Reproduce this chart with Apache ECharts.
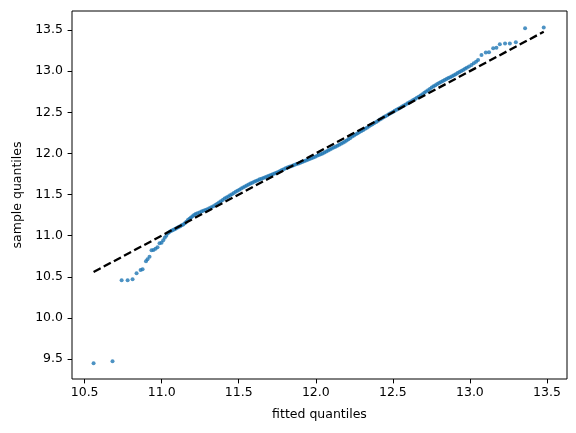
<!DOCTYPE html>
<html>
<head>
<meta charset="utf-8">
<script src="https://cdn.jsdelivr.net/npm/echarts@6/dist/echarts.min.js"></script>
<style>html,body{margin:0;padding:0;background:#fff}#c{width:576px;height:433px}</style>
</head>
<body>
<div id="c"></div>
<script>
// fitted (theoretical) quantiles
var fittedQ = [
10.558,10.681,10.740,10.779,10.811,10.837,10.863,10.876,10.898,10.908,10.921,10.934,10.947,10.960,10.973,10.986,10.999,
11.010,11.020,11.030,11.040,11.050,11.060,11.070,11.080,11.090,11.100,11.110,11.120,11.130,11.140,11.150,11.160,11.170,11.180,11.190,11.200,11.210,11.220,
11.232,11.245,11.258,11.270,11.283,11.296,11.309,11.322,11.335,11.348,11.360,11.372,11.384,11.396,11.408,11.420,11.432,11.444,11.456,11.468,11.480,11.492,
11.504,11.516,11.528,11.540,11.552,11.564,11.576,11.588,11.600,11.612,11.624,11.636,11.648,11.660,11.672,11.684,11.696,11.708,11.720,11.732,11.744,11.756,
11.768,11.780,11.792,11.804,11.816,11.828,11.840,11.852,11.864,11.876,11.888,11.900,11.912,11.924,11.936,11.948,11.960,11.972,11.984,11.996,12.008,12.020,
12.032,12.044,12.056,12.068,12.080,12.092,12.104,12.116,12.128,12.140,12.152,12.164,12.176,12.188,12.200,12.212,12.224,12.236,12.248,12.260,12.272,12.284,
12.296,12.308,12.320,12.332,12.344,12.356,12.368,12.380,12.392,12.404,12.416,12.428,12.440,12.452,12.464,12.476,12.488,12.500,12.512,12.524,12.536,12.548,
12.560,12.572,12.584,12.596,12.608,12.620,12.632,12.644,12.656,12.668,12.680,12.692,12.704,12.716,12.728,12.740,12.752,12.764,12.776,12.788,12.800,12.812,
12.824,12.836,12.848,12.860,12.872,12.884,12.896,12.908,12.920,12.932,12.944,12.956,12.968,12.980,12.994,13.010,13.025,13.040,13.053,
13.075,13.103,13.124,13.151,13.172,13.194,13.228,13.259,13.298,13.358,13.479
];
// sample quantiles
var sampleQ = [
9.448,9.472,10.457,10.457,10.469,10.542,10.582,10.590,10.688,10.712,10.744,10.822,10.825,10.841,10.858,10.907,10.914,
10.945,10.975,11.000,11.030,11.045,11.055,11.065,11.075,11.085,11.095,11.105,11.115,11.125,11.135,11.150,11.170,11.190,11.205,11.220,11.235,11.250,11.262,
11.272,11.282,11.292,11.302,11.312,11.322,11.333,11.345,11.358,11.372,11.387,11.402,11.418,11.434,11.450,11.463,11.476,11.490,11.504,11.518,11.532,11.546,
11.559,11.572,11.585,11.598,11.610,11.622,11.633,11.644,11.654,11.664,11.674,11.684,11.693,11.702,11.711,11.720,11.729,11.738,11.747,11.756,11.765,11.775,
11.786,11.797,11.808,11.818,11.827,11.836,11.845,11.854,11.862,11.870,11.878,11.886,11.895,11.904,11.913,11.922,11.931,11.940,11.950,11.960,11.970,11.980,
11.990,12.000,12.011,12.022,12.034,12.046,12.058,12.070,12.082,12.094,12.105,12.116,12.128,12.142,12.157,12.172,12.188,12.204,12.218,12.232,12.246,12.259,
12.272,12.285,12.299,12.313,12.327,12.341,12.355,12.369,12.383,12.397,12.411,12.425,12.439,12.452,12.465,12.478,12.491,12.504,12.517,12.530,12.543,12.556,
12.569,12.582,12.595,12.608,12.621,12.634,12.648,12.662,12.676,12.690,12.705,12.720,12.736,12.752,12.768,12.784,12.800,12.815,12.829,12.842,12.855,12.867,
12.879,12.891,12.903,12.915,12.927,12.939,12.951,12.963,12.976,12.989,13.002,13.015,13.028,13.041,13.055,13.075,13.095,13.115,13.136,
13.197,13.225,13.230,13.278,13.285,13.327,13.335,13.336,13.351,13.521,13.530
];
// reference line (y = x) end points
var refX = [10.558, 13.479];
var refY = [10.558, 13.479];
var xTicks = [10.5, 11.0, 11.5, 12.0, 12.5, 13.0, 13.5];
var yTicks = [9.5, 10.0, 10.5, 11.0, 11.5, 12.0, 12.5, 13.0, 13.5];

var pts = fittedQ.map(function (v, i) { return [v, sampleQ[i]]; });
var ref = refX.map(function (v, i) { return [v, refY[i]]; });

var font = 'DejaVu Sans';
var chart = echarts.init(document.getElementById('c'), null, { renderer: 'canvas' });
chart.setOption({
  animation: false,
  backgroundColor: '#fff',
  grid: { left: 72, right: 9, top: 11, bottom: 54, show: true, borderColor: '#000', borderWidth: 1, backgroundColor: 'transparent' },
  xAxis: {
    type: 'value', min: 10.418, max: 13.63,
    name: 'fitted quantiles', nameLocation: 'middle', nameGap: 29,
    nameTextStyle: { fontFamily: font, fontSize: 12.5, color: '#000' },
    axisLine: { show: false },
    splitLine: { show: false },
    axisTick: { show: true, length: 4.4, lineStyle: { color: '#000', width: 1 }, customValues: xTicks },
    axisLabel: { fontFamily: font, fontSize: 12.5, color: '#000', margin: 7, customValues: xTicks,
      formatter: function (v) { return v.toFixed(1); } }
  },
  yAxis: {
    type: 'value', min: 9.257, max: 13.731,
    name: 'sample quantiles', nameLocation: 'middle', nameGap: 47, nameRotate: 90,
    nameTextStyle: { fontFamily: font, fontSize: 12.5, color: '#000' },
    axisLine: { show: false },
    splitLine: { show: false },
    axisTick: { show: true, length: 4.4, lineStyle: { color: '#000', width: 1 }, customValues: yTicks },
    axisLabel: { fontFamily: font, fontSize: 12.5, color: '#000', margin: 9, customValues: yTicks,
      formatter: function (v) { return v.toFixed(1); } }
  },
  series: [
    {
      type: 'scatter', data: pts, symbolSize: 4,
      itemStyle: { color: '#1f77b4', opacity: 0.8 }, z: 2
    },
    {
      type: 'line', data: ref, symbol: 'none', z: 3,
      lineStyle: { color: '#000', width: 2.3, type: [8, 3.5] }
    }
  ]
});
</script>
</body>
</html>
